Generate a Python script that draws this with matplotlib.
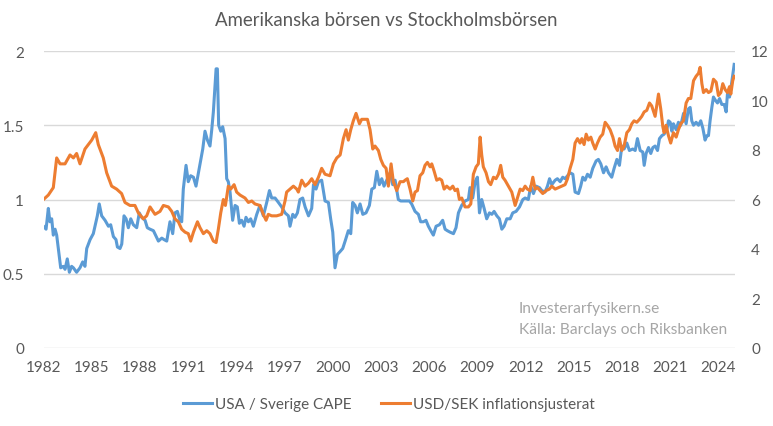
import matplotlib
matplotlib.use("Agg")
import matplotlib.pyplot as plt

plt.rcParams['font.family'] = ['Lato', 'DejaVu Sans']

# USA / Sverige CAPE (left axis)
cape_year = [
    1982.00, 1982.16, 1982.30, 1982.40, 1982.51, 1982.61, 1982.72, 1982.82, 1982.92, 1983.07,
    1983.23, 1983.34, 1983.48, 1983.61, 1983.75, 1983.86, 1984.06, 1984.27, 1984.44, 1984.58,
    1984.69, 1984.90, 1985.10, 1985.27, 1985.35, 1985.47, 1985.62, 1985.83, 1986.04, 1986.18,
    1986.35, 1986.51, 1986.60, 1986.76, 1986.87, 1987.01, 1987.14, 1987.28, 1987.43, 1987.59,
    1987.80, 1987.96, 1988.11, 1988.32, 1988.46, 1988.63, 1988.84, 1989.15, 1989.36, 1989.50,
    1989.67, 1989.87, 1990.04, 1990.18, 1990.33, 1990.49, 1990.60, 1990.70, 1990.87, 1991.01,
    1991.16, 1991.33, 1991.49, 1991.64, 1991.78, 1991.91, 1992.05, 1992.20, 1992.36, 1992.47,
    1992.57, 1992.74, 1992.82, 1992.90, 1993.03, 1993.15, 1993.30, 1993.40, 1993.50, 1993.61,
    1993.77, 1993.92, 1994.06, 1994.19, 1994.33, 1994.48, 1994.60, 1994.75, 1994.89, 1995.06,
    1995.27, 1995.47, 1995.68, 1995.89, 1996.06, 1996.20, 1996.41, 1996.62, 1996.82, 1997.03,
    1997.24, 1997.34, 1997.51, 1997.65, 1997.80, 1997.96, 1998.13, 1998.28, 1998.49, 1998.69,
    1998.80, 1998.96, 1999.11, 1999.31, 1999.52, 1999.73, 1999.87, 2000.00, 2000.14, 2000.29,
    2000.46, 2000.62, 2000.77, 2000.97, 2001.12, 2001.24, 2001.39, 2001.53, 2001.70, 2001.87,
    2002.07, 2002.28, 2002.43, 2002.59, 2002.74, 2002.90, 2003.05, 2003.19, 2003.36, 2003.57,
    2003.73, 2003.88, 2004.08, 2004.23, 2004.44, 2004.60, 2004.77, 2004.91, 2005.12, 2005.33,
    2005.47, 2005.64, 2005.80, 2005.95, 2006.10, 2006.26, 2006.43, 2006.64, 2006.84, 2006.99,
    2007.13, 2007.30, 2007.51, 2007.67, 2007.82, 2008.02, 2008.23, 2008.44, 2008.54, 2008.71,
    2008.86, 2009.00, 2009.13, 2009.27, 2009.42, 2009.58, 2009.75, 2009.90, 2010.04, 2010.21,
    2010.37, 2010.52, 2010.66, 2010.83, 2011.04, 2011.20, 2011.41, 2011.62, 2011.83, 2011.97,
    2012.17, 2012.32, 2012.49, 2012.65, 2012.86, 2013.01, 2013.21, 2013.36, 2013.49, 2013.63,
    2013.84, 2013.98, 2014.15, 2014.31, 2014.46, 2014.61, 2014.77, 2014.94, 2015.08, 2015.29,
    2015.43, 2015.56, 2015.70, 2015.85, 2016.02, 2016.18, 2016.39, 2016.53, 2016.68, 2016.85,
    2017.01, 2017.16, 2017.36, 2017.51, 2017.68, 2017.84, 2017.99, 2018.13, 2018.30, 2018.46,
    2018.67, 2018.82, 2018.96, 2019.13, 2019.29, 2019.38, 2019.50, 2019.65, 2019.79, 2019.92,
    2020.06, 2020.21, 2020.33, 2020.48, 2020.62, 2020.79, 2020.89, 2021.00, 2021.10, 2021.20,
    2021.37, 2021.51, 2021.66, 2021.83, 2021.99, 2022.13, 2022.24, 2022.34, 2022.45, 2022.61,
    2022.76, 2022.90, 2023.03, 2023.17, 2023.28, 2023.38, 2023.48, 2023.59, 2023.69, 2023.80,
    2023.94, 2024.07, 2024.21, 2024.36, 2024.48, 2024.56, 2024.69, 2024.83, 2024.98,
]
cape_ratio = [
    0.82, 0.80, 0.94, 0.85, 0.87, 0.76, 0.80, 0.76, 0.67, 0.54,
    0.55, 0.53, 0.60, 0.51, 0.55, 0.54, 0.51, 0.54, 0.58, 0.55,
    0.67, 0.73, 0.77, 0.85, 0.89, 0.97, 0.89, 0.86, 0.82, 0.83,
    0.75, 0.73, 0.68, 0.67, 0.70, 0.89, 0.87, 0.81, 0.87, 0.83,
    0.81, 0.91, 0.88, 0.86, 0.81, 0.80, 0.79, 0.72, 0.74, 0.73,
    0.72, 0.85, 0.77, 0.91, 0.92, 0.86, 0.85, 1.07, 1.23, 1.12,
    1.16, 1.15, 1.09, 1.18, 1.26, 1.34, 1.46, 1.40, 1.36, 1.47,
    1.59, 1.88, 1.88, 1.50, 1.46, 1.49, 1.41, 1.14, 1.12, 1.05,
    0.86, 0.96, 0.95, 0.84, 0.86, 0.82, 0.88, 0.85, 0.87, 0.82,
    0.90, 0.96, 0.89, 0.98, 1.06, 1.01, 1.01, 0.98, 0.95, 0.91,
    0.89, 0.82, 0.90, 0.88, 0.91, 1.00, 1.01, 0.95, 0.89, 0.94,
    1.10, 1.07, 1.12, 1.13, 0.99, 0.98, 0.87, 0.78, 0.54, 0.63,
    0.65, 0.67, 0.72, 0.79, 0.77, 0.98, 0.96, 0.91, 0.97, 0.90,
    0.91, 0.96, 1.07, 1.08, 1.19, 1.10, 1.14, 1.09, 1.13, 1.18,
    1.10, 1.13, 1.00, 0.99, 0.99, 0.99, 0.99, 0.97, 0.92, 0.90,
    0.85, 0.85, 0.86, 0.82, 0.79, 0.76, 0.82, 0.83, 0.86, 0.80,
    0.79, 0.78, 0.77, 0.81, 0.91, 0.96, 0.99, 1.00, 1.08, 1.01,
    1.12, 1.15, 0.91, 1.00, 0.94, 0.87, 0.91, 0.90, 0.92, 0.89,
    0.87, 0.80, 0.82, 0.87, 0.87, 0.91, 0.92, 0.95, 1.00, 1.01,
    1.00, 1.09, 1.04, 1.09, 1.08, 1.06, 1.05, 1.09, 1.14, 1.10,
    1.13, 1.14, 1.12, 1.15, 1.14, 1.16, 1.18, 1.17, 1.05, 1.04,
    1.09, 1.15, 1.13, 1.17, 1.15, 1.21, 1.26, 1.27, 1.24, 1.18,
    1.22, 1.18, 1.15, 1.21, 1.27, 1.23, 1.36, 1.34, 1.38, 1.33,
    1.34, 1.33, 1.41, 1.33, 1.32, 1.23, 1.31, 1.35, 1.31, 1.35,
    1.36, 1.33, 1.41, 1.43, 1.44, 1.47, 1.53, 1.52, 1.46, 1.51,
    1.47, 1.52, 1.50, 1.58, 1.51, 1.61, 1.62, 1.53, 1.50, 1.52,
    1.50, 1.53, 1.48, 1.40, 1.43, 1.43, 1.53, 1.62, 1.69, 1.67,
    1.65, 1.68, 1.64, 1.64, 1.59, 1.71, 1.69, 1.79, 1.91,
]

# USD/SEK inflationsjusterat (right axis)
sek_year = [
    1982.00, 1982.30, 1982.61, 1982.82, 1983.03, 1983.34, 1983.65, 1983.86, 1984.06, 1984.27,
    1984.58, 1984.79, 1985.00, 1985.25, 1985.41, 1985.72, 1985.93, 1986.24, 1986.55, 1986.86,
    1987.07, 1987.38, 1987.69, 1987.90, 1988.21, 1988.42, 1988.63, 1988.94, 1989.25, 1989.46,
    1989.77, 1989.98, 1990.18, 1990.39, 1990.60, 1990.81, 1991.01, 1991.16, 1991.33, 1991.58,
    1991.74, 1991.95, 1992.16, 1992.36, 1992.57, 1992.74, 1992.88, 1993.03, 1993.19, 1993.32,
    1993.50, 1993.65, 1993.86, 1994.02, 1994.23, 1994.54, 1994.75, 1994.96, 1995.16, 1995.47,
    1995.68, 1995.85, 1995.99, 1996.20, 1996.51, 1996.82, 1997.03, 1997.13, 1997.34, 1997.55,
    1997.76, 1997.86, 1998.07, 1998.28, 1998.49, 1998.69, 1998.90, 1999.11, 1999.31, 1999.52,
    1999.83, 2000.04, 2000.25, 2000.46, 2000.66, 2000.83, 2000.97, 2001.12, 2001.28, 2001.45,
    2001.66, 2001.80, 2002.01, 2002.16, 2002.32, 2002.49, 2002.63, 2002.84, 2002.99, 2003.15,
    2003.32, 2003.46, 2003.63, 2003.77, 2003.98, 2004.19, 2004.40, 2004.50, 2004.64, 2004.81,
    2004.98, 2005.12, 2005.27, 2005.43, 2005.60, 2005.74, 2005.89, 2006.06, 2006.16, 2006.31,
    2006.47, 2006.64, 2006.78, 2006.93, 2007.09, 2007.30, 2007.47, 2007.61, 2007.76, 2007.88,
    2008.03, 2008.23, 2008.44, 2008.59, 2008.75, 2008.92, 2009.06, 2009.17, 2009.27, 2009.37,
    2009.54, 2009.69, 2009.83, 2010.00, 2010.16, 2010.31, 2010.45, 2010.58, 2010.72, 2010.93,
    2011.14, 2011.35, 2011.49, 2011.66, 2011.82, 2011.97, 2012.11, 2012.28, 2012.45, 2012.59,
    2012.74, 2012.90, 2013.07, 2013.28, 2013.48, 2013.63, 2013.84, 2014.05, 2014.25, 2014.46,
    2014.61, 2014.77, 2014.94, 2015.08, 2015.23, 2015.39, 2015.50, 2015.64, 2015.77, 2015.91,
    2016.06, 2016.18, 2016.33, 2016.47, 2016.64, 2016.80, 2016.95, 2017.09, 2017.26, 2017.43,
    2017.57, 2017.72, 2017.84, 2017.99, 2018.13, 2018.30, 2018.46, 2018.61, 2018.75, 2018.92,
    2019.09, 2019.23, 2019.38, 2019.54, 2019.71, 2019.85, 2020.06, 2020.27, 2020.41, 2020.54,
    2020.62, 2020.74, 2020.89, 2021.03, 2021.20, 2021.37, 2021.51, 2021.66, 2021.82, 2021.99,
    2022.13, 2022.28, 2022.45, 2022.61, 2022.76, 2022.86, 2022.97, 2023.07, 2023.24, 2023.38,
    2023.53, 2023.69, 2023.86, 2024.00, 2024.15, 2024.27, 2024.42, 2024.56, 2024.69, 2024.77,
    2024.89, 2024.98,
]
usd_sek_real = [
    6.00, 6.18, 6.48, 7.68, 7.44, 7.44, 7.80, 7.68, 7.86, 7.44,
    8.04, 8.22, 8.40, 8.70, 8.22, 7.68, 7.08, 6.54, 6.42, 6.24,
    5.88, 5.76, 5.76, 5.46, 5.22, 5.34, 5.70, 5.40, 5.52, 5.76,
    5.70, 5.52, 5.22, 5.10, 4.80, 4.68, 4.62, 4.32, 4.68, 5.10,
    4.86, 4.62, 4.74, 4.62, 4.32, 4.26, 4.80, 5.46, 6.00, 5.76,
    6.54, 6.42, 6.60, 6.30, 6.18, 6.06, 5.88, 5.94, 5.82, 5.76,
    5.40, 5.16, 5.40, 5.34, 5.34, 5.40, 5.94, 6.30, 6.42, 6.54,
    6.42, 6.30, 6.78, 6.54, 6.66, 6.84, 6.60, 6.90, 7.26, 7.02,
    6.96, 7.44, 7.68, 7.80, 8.46, 8.82, 8.40, 8.82, 9.18, 9.48,
    9.06, 9.24, 9.24, 9.24, 8.82, 8.04, 8.16, 7.98, 7.62, 7.38,
    7.26, 6.54, 7.44, 6.72, 6.36, 6.72, 6.72, 6.78, 6.84, 6.42,
    5.94, 6.30, 6.36, 6.96, 7.08, 7.38, 7.50, 7.32, 7.44, 7.14,
    6.78, 6.84, 6.78, 6.42, 6.54, 6.42, 6.54, 6.36, 6.42, 6.00,
    6.06, 5.70, 5.70, 5.82, 7.02, 7.32, 7.44, 8.52, 7.80, 7.32,
    7.08, 6.72, 6.60, 6.90, 6.84, 7.02, 7.38, 6.90, 6.78, 6.54,
    6.30, 5.76, 6.06, 6.42, 6.36, 6.54, 6.42, 6.36, 6.90, 6.42,
    6.48, 6.36, 6.24, 6.36, 6.42, 6.54, 6.42, 6.48, 6.54, 6.60,
    6.84, 7.26, 7.62, 8.28, 8.46, 8.28, 8.46, 8.22, 8.64, 8.40,
    8.52, 8.28, 8.04, 8.28, 8.52, 8.64, 9.12, 9.00, 8.82, 8.52,
    8.16, 7.98, 8.46, 7.98, 8.16, 8.70, 8.82, 9.06, 9.18, 9.12,
    9.24, 9.36, 9.54, 9.60, 9.90, 9.78, 9.36, 10.26, 9.66, 8.94,
    8.70, 9.00, 8.58, 8.28, 8.70, 8.52, 8.82, 9.06, 9.18, 9.90,
    10.08, 10.08, 10.80, 10.98, 11.10, 11.34, 10.68, 10.32, 10.44, 10.32,
    10.38, 10.86, 10.74, 10.20, 10.32, 10.68, 10.44, 10.32, 10.56, 10.26,
    10.80, 10.98,
]

tick_years = [1982, 1985, 1988, 1991, 1994, 1997, 2000, 2003, 2006,
              2009, 2012, 2015, 2018, 2021, 2024]

title = "Amerikanska börsen vs Stockholmsbörsen"
cape_label = "USA / Sverige CAPE"
sek_label = "USD/SEK inflationsjusterat"

blue = "#5B9BD5"
orange = "#ED7D31"
text_col = "#595959"
grid_col = "#D9D9D9"

fig = plt.figure(figsize=(7.73, 4.27), dpi=100)
ax = fig.add_axes([43.5 / 773, 78 / 427, 691 / 773, 297 / 427])
ax2 = ax.twinx()

l1, = ax.plot(cape_year, cape_ratio, color=blue, lw=2.2,
              solid_joinstyle="round", label=cape_label)
l2, = ax2.plot(sek_year, usd_sek_real, color=orange, lw=2.2,
               solid_joinstyle="round", label=sek_label)

ax.set_xlim(1982, 2025)
ax.set_ylim(0, 2)
ax2.set_ylim(0, 12)
ax.set_yticks([0, 0.5, 1, 1.5, 2])
ax.set_yticklabels(["0", "0.5", "1", "1.5", "2"])
ax2.set_yticks(range(0, 13, 2))
ax.set_xticks(tick_years)
ax.set_xticklabels([str(y) for y in tick_years])

ax.grid(axis="y", color=grid_col, lw=1)
ax.set_axisbelow(True)
for a in (ax, ax2):
    for s in a.spines.values():
        s.set_visible(False)
ax.tick_params(axis="both", length=0, labelsize=11, labelcolor=text_col)
ax.tick_params(axis="y", pad=14)
ax.tick_params(axis="x", pad=9)
ax2.tick_params(axis="y", length=0, labelsize=11, labelcolor=text_col, pad=12)

fig.text(386.5 / 773, 1 - 20 / 427, title, ha="center", va="center",
         fontsize=13.4, color=text_col)

fig.text(519 / 773, 1 - 309 / 427, "Investerarfysikern.se", ha="left", va="center",
         fontsize=11.2, color="#A6A6A6")
fig.text(519 / 773, 1 - 330 / 427, "Källa: Barclays och Riksbanken", ha="left",
         va="center", fontsize=11.2, color="#A6A6A6")

fig.legend(handles=[l1, l2], loc="center", bbox_to_anchor=(389 / 773, 1 - 405 / 427),
           ncol=2, frameon=False, fontsize=11, labelcolor=text_col,
           handlelength=1.9, handletextpad=0.2, columnspacing=1.9)

fig.savefig("out.png", dpi=100)
